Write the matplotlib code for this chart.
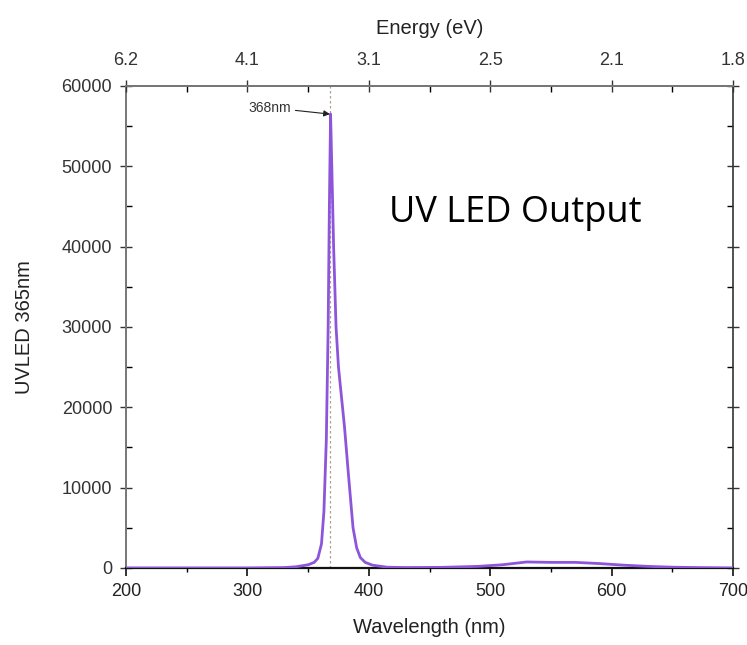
import numpy as np
import matplotlib
matplotlib.use("Agg")
import matplotlib.pyplot as plt
from matplotlib.ticker import MultipleLocator, FixedLocator

plt.rcParams['font.family'] = ['Liberation Sans', 'DejaVu Sans']

# emission spectrum of the 365nm UV LED
wavelength = [200, 300, 330, 340, 350, 355, 358, 361, 363, 365, 366.5, 367.5,
              368.5, 369.5, 371, 373, 375, 377, 380, 383, 385, 387, 390, 393,
              397, 403, 415, 430, 460, 490, 510, 530, 550, 570, 590, 610, 630,
              650, 680, 700]
counts = [0, 0, 50, 150, 400, 700, 1200, 3000, 7000, 16000, 30000, 45000,
          56500, 50000, 40000, 30000, 25000, 22000, 17500, 12000, 8500, 5000,
          2500, 1300, 700, 350, 100, 50, 80, 200, 400, 750, 700, 700, 550, 350,
          200, 100, 30, 0]

peak_nm = 368
top_ticks = [200, 300, 400, 500, 600, 700]
top_labels = ["6.2", "4.1", "3.1", "2.5", "2.1", "1.8"]

fig = plt.figure(figsize=(7.47, 6.45), dpi=100)
ax = fig.add_axes([0.1687, 0.1194, 0.8126, 0.7473])

ax.plot(wavelength, counts, color='#8d55da', lw=2.0, zorder=3)
ax.axvline(peak_nm, color='#b0a090', lw=0.9, ls=(0, (2, 2)), zorder=2)

ax.annotate("368nm", xy=(peak_nm, max(counts)), xytext=(301, 57300),
            fontsize=10, color='#333333', va='center',
            arrowprops=dict(arrowstyle='-|>', color='#222222', lw=0.8,
                            mutation_scale=9, shrinkA=1, shrinkB=0))

ax.text(0.4325, 0.736, "UV LED Output", transform=ax.transAxes,
        fontsize=26, family=['Open Sans', 'DejaVu Sans'], color='black',
        va='center')

ax.set_xlim(200, 700)
ax.set_ylim(0, 60000)
ax.xaxis.set_major_locator(MultipleLocator(100))
ax.xaxis.set_minor_locator(MultipleLocator(50))
ax.yaxis.set_major_locator(MultipleLocator(10000))
ax.yaxis.set_minor_locator(MultipleLocator(5000))

ax.tick_params(axis='x', which='major', direction='out', length=6, width=1.3,
               labelsize=13, colors='#222222', pad=5)
ax.tick_params(axis='x', which='minor', direction='out', length=3, width=1)
ax.tick_params(axis='y', which='major', direction='inout', length=8, width=1,
               labelsize=13, colors='#333333', right=True, pad=6)
ax.tick_params(axis='y', which='minor', direction='in', length=4, width=1,
               right=True)

ax.set_xlabel("Wavelength (nm)", fontsize=14.5, color='#222222', labelpad=13)
ax.set_ylabel("UVLED 365nm", fontsize=14.5, color='#222222', labelpad=20)

for side in ['left', 'top']:
    ax.spines[side].set_color('#777777')
    ax.spines[side].set_linewidth(1.4)
ax.spines['bottom'].set_color('#111111')
ax.spines['bottom'].set_linewidth(1.6)
ax.spines['right'].set_color('#333333')
ax.spines['right'].set_linewidth(1.2)

# energy scale on top, E = 1240 / wavelength
ax2 = ax.twiny()
ax2.set_xlim(ax.get_xlim())
ax2.xaxis.set_major_locator(FixedLocator(top_ticks))
ax2.xaxis.set_minor_locator(MultipleLocator(50))
ax2.set_xticklabels(top_labels)
ax2.tick_params(axis='x', which='major', direction='inout', length=9, width=1,
                labelsize=13, colors='#333333', pad=8)
ax2.tick_params(axis='x', which='minor', direction='in', length=4, width=1)
ax2.set_xlabel("Energy (eV)", fontsize=14.5, color='#222222', labelpad=13)
for side in ['left', 'right', 'bottom']:
    ax2.spines[side].set_visible(False)
ax2.spines['top'].set_color('#777777')
ax2.spines['top'].set_linewidth(1.4)

fig.savefig("out.png", dpi=100)
